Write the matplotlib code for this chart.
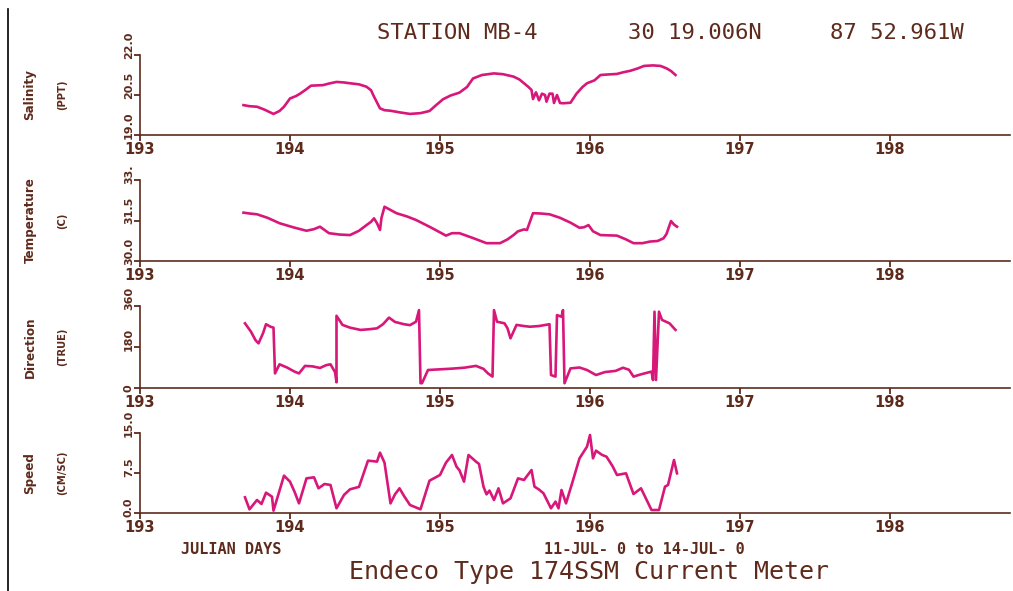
import numpy as np
import matplotlib.pyplot as plt
from matplotlib.lines import Line2D
from matplotlib.transforms import ScaledTranslation

# Endeco 174SSM current meter record, station MB-4 (Julian days)
sal_day = [193.69, 193.73, 193.78, 193.83, 193.89, 193.93, 193.96, 194.00, 194.04, 194.07,
           194.11, 194.14, 194.18, 194.22, 194.26, 194.31, 194.36, 194.40, 194.46, 194.51,
           194.54, 194.56, 194.58, 194.60, 194.63, 194.67, 194.73, 194.80, 194.87, 194.93,
           194.97, 195.02, 195.07, 195.13, 195.18, 195.22, 195.28, 195.36, 195.42, 195.49,
           195.53, 195.56, 195.59, 195.61, 195.62, 195.64, 195.66, 195.68, 195.70, 195.71,
           195.73, 195.75, 195.76, 195.78, 195.80, 195.82, 195.87, 195.91, 195.95, 195.98,
           196.03, 196.07, 196.12, 196.18, 196.22, 196.27, 196.32, 196.36, 196.42, 196.47,
           196.51, 196.54, 196.57]
sal_val = [20.12, 20.08, 20.06, 19.95, 19.79, 19.90, 20.06, 20.37, 20.46, 20.56,
           20.72, 20.85, 20.86, 20.87, 20.93, 20.99, 20.97, 20.94, 20.90, 20.81,
           20.68, 20.44, 20.22, 20.00, 19.93, 19.91, 19.85, 19.79, 19.82, 19.90,
           20.10, 20.34, 20.48, 20.59, 20.80, 21.12, 21.25, 21.31, 21.28, 21.19,
           21.08, 20.94, 20.80, 20.69, 20.35, 20.60, 20.30, 20.55, 20.50, 20.25,
           20.55, 20.55, 20.20, 20.50, 20.20, 20.19, 20.21, 20.55, 20.80, 20.94,
           21.05, 21.25, 21.27, 21.29, 21.35, 21.41, 21.50, 21.59, 21.61, 21.59,
           21.50, 21.40, 21.25]

temp_day = [193.69, 193.73, 193.78, 193.85, 193.93, 194.02, 194.11, 194.16, 194.20, 194.23,
            194.26, 194.33, 194.40, 194.46, 194.51, 194.54, 194.56, 194.58, 194.60, 194.61,
            194.63, 194.66, 194.71, 194.78, 194.84, 194.94, 195.04, 195.08, 195.13, 195.22,
            195.31, 195.40, 195.45, 195.49, 195.52, 195.56, 195.58, 195.62, 195.67, 195.73,
            195.80, 195.87, 195.93, 195.96, 195.99, 196.02, 196.07, 196.18, 196.24, 196.29,
            196.35, 196.40, 196.45, 196.49, 196.51, 196.54, 196.56, 196.58]
temp_val = [31.79, 31.76, 31.73, 31.60, 31.40, 31.25, 31.12, 31.18, 31.27, 31.15,
            31.03, 30.98, 30.96, 31.12, 31.33, 31.45, 31.58, 31.40, 31.15, 31.60,
            32.01, 31.92, 31.77, 31.65, 31.52, 31.24, 30.94, 31.03, 31.03, 30.85,
            30.66, 30.66, 30.80, 30.96, 31.10, 31.17, 31.15, 31.77, 31.76, 31.73,
            31.60, 31.42, 31.23, 31.25, 31.33, 31.10, 30.96, 30.94, 30.80, 30.66,
            30.66, 30.72, 30.74, 30.84, 31.00, 31.48, 31.35, 31.27]

dir_day = [193.70, 193.74, 193.77, 193.79, 193.82, 193.84, 193.87, 193.89, 193.90, 193.93,
           193.98, 194.03, 194.06, 194.10, 194.15, 194.20, 194.24, 194.27, 194.30, 194.31,
           194.31, 194.35, 194.40, 194.47, 194.53, 194.58, 194.62, 194.66, 194.70, 194.76,
           194.80, 194.84, 194.86, 194.87, 194.88, 194.92, 195.00, 195.08, 195.16, 195.24,
           195.29, 195.32, 195.35, 195.36, 195.38, 195.43, 195.45, 195.47, 195.51, 195.56,
           195.60, 195.66, 195.73, 195.74, 195.77, 195.78, 195.81, 195.82, 195.83, 195.87,
           195.93, 195.98, 196.04, 196.10, 196.17, 196.22, 196.26, 196.29, 196.34, 196.41,
           196.42, 196.43, 196.44, 196.46, 196.48, 196.53, 196.57]
dir_val = [284, 247, 210, 196, 240, 280, 269, 265, 64, 104,
           90, 72, 64, 97, 95, 88, 100, 104, 70, 25,
           317, 277, 265, 255, 258, 262, 280, 309, 290, 280,
           276, 291, 342, 21, 21, 79, 82, 85, 89, 97,
           84, 64, 50, 342, 291, 284, 262, 218, 277, 272,
           269, 272, 280, 57, 50, 320, 313, 342, 21, 86,
           90, 79, 57, 70, 75, 89, 80, 50, 60, 72,
           35, 335, 35, 335, 299, 284, 255]

spd_day = [193.70, 193.73, 193.78, 193.81, 193.84, 193.88, 193.89, 193.96, 194.00, 194.03,
           194.06, 194.11, 194.16, 194.19, 194.23, 194.27, 194.31, 194.36, 194.40, 194.46,
           194.52, 194.56, 194.58, 194.60, 194.63, 194.67, 194.70, 194.73, 194.76, 194.80,
           194.87, 194.93, 195.00, 195.04, 195.08, 195.11, 195.13, 195.16, 195.19, 195.24,
           195.26, 195.29, 195.31, 195.33, 195.36, 195.39, 195.42, 195.47, 195.52, 195.56,
           195.61, 195.63, 195.66, 195.69, 195.74, 195.77, 195.79, 195.81, 195.84, 195.88,
           195.93, 195.98, 196.00, 196.02, 196.04, 196.08, 196.11, 196.15, 196.18, 196.24,
           196.29, 196.34, 196.41, 196.46, 196.50, 196.52, 196.56, 196.58]
spd_val = [2.94, 0.69, 2.44, 1.69, 3.81, 3.06, 0.44, 7.00, 5.88, 4.00,
           1.81, 6.50, 6.69, 4.63, 5.44, 5.25, 0.88, 3.38, 4.44, 4.90,
           9.81, 9.70, 9.63, 11.31, 9.44, 1.81, 3.50, 4.63, 3.20, 1.50,
           0.69, 6.06, 7.13, 9.44, 10.88, 8.69, 8.00, 5.88, 10.88, 9.63,
           9.20, 4.94, 3.50, 4.20, 2.44, 4.63, 1.81, 2.75, 6.50, 6.19,
           8.06, 4.94, 4.40, 3.69, 0.88, 2.13, 0.88, 4.31, 1.81, 5.50,
           10.25, 12.44, 14.63, 10.25, 11.69, 10.90, 10.56, 8.80, 7.13, 7.44,
           3.56, 4.63, 0.56, 0.56, 4.94, 5.25, 9.94, 7.44]

day_ticks = [193, 194, 195, 196, 197, 198]

panels = [
    ("Salinity", "(PPT)", sal_day, sal_val, (19.0, 22.0), [19.0, 20.5, 22.0], ["19.0", "20.5", "22.0"]),
    ("Temperature", "(C)", temp_day, temp_val, (30.0, 33.0), [30.0, 31.5, 33.0], ["30.0", "31.5", "33."]),
    ("Direction", "(TRUE)", dir_day, dir_val, (0, 360), [0, 180, 360], ["0", "180", "360"]),
    ("Speed", "(CM/SC)", spd_day, spd_val, (0.0, 15.0), [0.0, 7.5, 15.0], ["0.0", "7.5", "15.0"]),
]

ink = "#5e2a1c"
pen = "#d8177a"

W, H = 1013, 591
fig = plt.figure(figsize=(W / 100, H / 100), dpi=100)

# panel boxes in pixels: (top, bottom)
boxes = [(55, 135), (180, 261), (306, 388), (433, 513)]
x0, x1 = 140, 1010

# rotated y labels: just left of the axis, starting a little below their tick
nudge = ScaledTranslation(-6 / 100, -4 / 100, fig.dpi_scale_trans)

for (name, unit, d, v, ylim, yt, ytl), (top, bot) in zip(panels, boxes):
    ax = fig.add_axes([x0 / W, 1 - bot / H, (x1 - x0) / W, (bot - top) / H])
    ax.plot(d, v, color=pen, lw=1.9, solid_joinstyle="round")
    ax.set_xlim(193, 193 + (x1 - x0) / 150)
    ax.set_ylim(*ylim)
    for s in ["top", "right"]:
        ax.spines[s].set_visible(False)
    for s in ["left", "bottom"]:
        ax.spines[s].set_color(ink)
        ax.spines[s].set_linewidth(1.2)
    ax.set_xticks(day_ticks)
    ax.set_xticklabels([str(t) for t in day_ticks], fontsize=10.5, fontweight="bold", color=ink)
    ax.set_yticks(yt)
    ax.tick_params(axis="x", direction="out", length=4, width=1.3, color=ink, pad=1)
    ax.tick_params(axis="y", direction="out", length=4, width=1.3, color=ink, labelleft=False)
    for t, lab in zip(yt, ytl):
        ax.text(0, t, lab, transform=ax.get_yaxis_transform() + nudge, rotation=90,
                ha="right", va="bottom", fontsize=8, fontweight="bold", color=ink)
    ax.set_facecolor("none")
    mid = 1 - (top + bot) / 2 / H
    fig.text(30 / W, mid, name, rotation=90, ha="center", va="center",
             fontsize=9.5, fontweight="bold", color=ink, fontstretch="condensed")
    fig.text(62 / W, mid, unit, rotation=90, ha="center", va="center",
             fontsize=8, fontweight="bold", color=ink, fontstretch="condensed")

# header and footer
mono = "DejaVu Sans Mono"
for s, xc in [("STATION MB-4", 457), ("30 19.006N", 695), ("87 52.961W", 897)]:
    fig.text(xc / W, 1 - 33 / H, s, ha="center", va="center", family=mono, fontsize=16, color=ink)
fig.text(231 / W, 1 - 549 / H, "JULIAN DAYS", ha="center", va="center",
         family=mono, fontsize=11, fontweight="bold", color=ink)
fig.text(644 / W, 1 - 549 / H, "11-JUL- 0 to 14-JUL- 0", ha="center", va="center",
         family=mono, fontsize=11, fontweight="bold", color=ink)
fig.text(589 / W, 1 - 572 / H, "Endeco Type 174SSM Current Meter", ha="center", va="center",
         family=mono, fontsize=18, color=ink)

# left edge of the sheet
fig.add_artist(Line2D([8 / W, 8 / W], [0, 1 - 9 / H], color="black", lw=1.2))

fig.savefig("out.png", dpi=100)
